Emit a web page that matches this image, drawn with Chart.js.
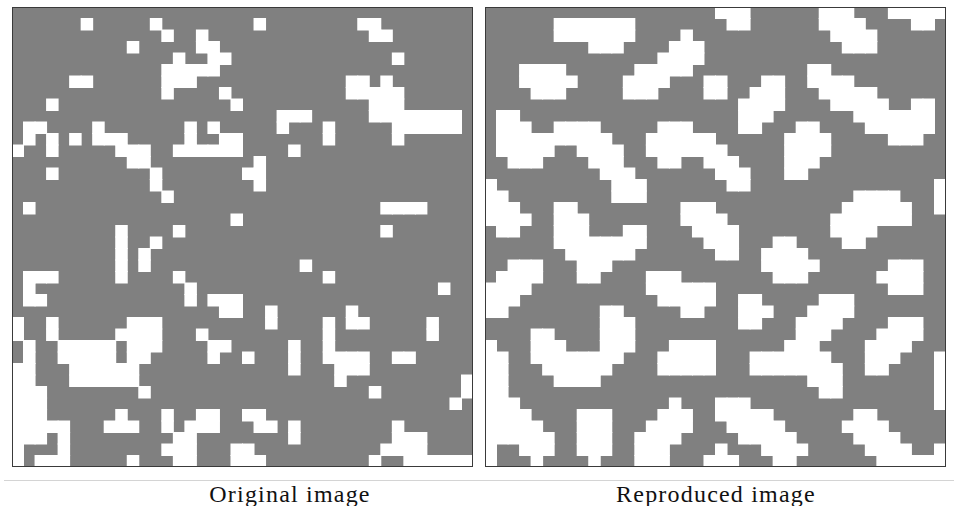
<!DOCTYPE html>
<html><head><meta charset="utf-8">
<script src="https://cdn.jsdelivr.net/npm/chart.js@4.4.1/dist/chart.umd.min.js"></script>
<style>
html,body{margin:0;padding:0;background:#fff;width:954px;height:506px;overflow:hidden;}
.panel{position:absolute;top:7px;width:461px;height:460px;}
#p1{left:12px}
#p2{left:485px}
.sep{position:absolute;left:4px;top:480px;width:950px;height:1px;background:#d4d4d4;}
.cap{position:absolute;top:481px;font-family:"Liberation Serif","DejaVu Serif",serif;font-size:24px;line-height:26px;letter-spacing:1.2px;color:#111;white-space:nowrap;transform:translateX(-50%);}
</style></head><body>
<div class="panel" id="p1"><canvas id="c1" width="461" height="460"></canvas></div>
<div class="panel" id="p2"><canvas id="c2" width="461" height="460"></canvas></div>
<div class="sep"></div>
<div class="cap" id="t1" style="left:290px"></div>
<div class="cap" id="t2" style="left:716px"></div>
<script>
const panelTitles = ["Original image", "Reproduced image"];
const columnLabels = Array.from({length: 40}, (_, i) => String(i));

// white cells per row (column indices), rows top to bottom
const originalWhiteCells = [
  [],
  [6,12,21,30,31],
  [13,16,31,32],
  [10,16,17],
  [14,17,18,33],
  [13,14,15,16,17],
  [5,6,13,14,15,29,30,32],
  [13,18,29,30,31,32,33],
  [3,19,31,32,33],
  [23,24,25,31,32,33,34,35,36,37,38],
  [1,2,7,15,17,23,27,33,34,35,36,37,38],
  [1,3,5,7,8,9,15,18,19,27,33],
  [0,3,9,10,11,14,15,16,17,18,19,24],
  [10,11,21],
  [3,12,20,21],
  [12,21],
  [13],
  [1,32,33,34,35],
  [19],
  [9,14,32],
  [9,12],
  [9,11],
  [9,11,25],
  [1,2,3,9,14,27],
  [1,15,37],
  [1,2,15,17,18,19],
  [18,19,22,29],
  [0,3,10,11,12,22,27,29,30,36],
  [0,3,9,10,11,12,16,27,36],
  [1,4,5,6,7,8,10,11,12,17,18,24,27],
  [1,4,5,6,7,8,10,11,17,20,24,27,28,29,30,33,34],
  [0,1,5,6,7,8,9,10,24,28,29,30],
  [0,1,5,6,7,8,9,10,28,39],
  [0,1,2,11,31,39],
  [0,1,2,38],
  [0,1,2,9,13,16,17,20,21],
  [0,1,2,3,4,8,9,10,13,15,16,17,21,22,24,33],
  [0,1,2,4,14,15,24,33,34,35],
  [0,4,13,14,15,19,20,32,33,34,35],
  [0,2,3,4,10,14,15,19,20,21,31,34,35,36,37,38,39]
];

const reproducedWhiteCells = [
  [20,21,22,29,30,31,35,36,37,38,39],
  [6,7,8,9,10,11,12,21,22,29,30,31,32,37,38],
  [6,7,8,9,10,11,12,17,30,31,32,33],
  [9,10,11,16,17,18,31,32,33],
  [15,16,17,18],
  [3,4,5,6,13,14,15,16,17,28,29],
  [3,4,5,6,7,12,13,14,15,19,20,24,25,28,29,30,31],
  [4,5,6,12,13,14,19,20,23,24,25,29,30,31,32,33],
  [22,23,24,25,30,31,32,33,34,37,38],
  [1,2,22,23,24,32,33,34,35,36,37,38],
  [1,2,3,6,7,8,9,15,16,17,22,23,27,28,33,34,35,36,37,38],
  [1,2,3,4,5,6,7,8,9,10,14,15,16,17,18,19,26,27,28,29,35,36,37],
  [1,2,3,4,5,8,9,10,11,14,15,16,17,18,19,20,26,27,28,29],
  [2,3,4,9,10,11,15,16,19,20,21,26,27,28],
  [10,11,12,20,21,22,26,27],
  [0,11,12,13,21,22,39],
  [0,1,11,12,13,32,33,34,35,39],
  [0,1,2,6,7,17,18,19,31,32,33,34,35,36,39],
  [0,1,2,3,6,7,8,17,18,19,20,30,31,32,33,34,35,36],
  [1,2,6,7,8,12,13,18,19,20,21,30,31,32,33],
  [6,7,8,9,10,11,12,13,19,20,21,25,26,31,32],
  [7,8,9,10,11,12,20,21,24,25,26,27],
  [2,3,4,8,9,10,24,25,26,27,28,35,36,37],
  [1,2,3,4,8,9,14,15,16,25,26,27,34,35,36,37],
  [0,1,2,3,14,15,16,17,18,19,35,36,37],
  [0,1,2,15,16,17,18,19,22,23,29,30,31],
  [0,1,10,11,17,18,22,23,24,28,29,30,31],
  [10,11,12,22,23,27,28,29,30,35,36,37],
  [4,5,10,11,12,27,28,29,34,35,36,37],
  [0,4,5,6,10,11,12,16,17,18,19,26,27,28,33,34,35,36],
  [0,1,4,5,6,7,8,9,10,11,15,16,17,18,19,23,24,25,26,27,28,29,33,34,35,39],
  [0,1,5,6,7,8,9,10,15,16,17,18,19,23,24,25,26,27,28,29,30,33,34,39],
  [0,1,6,7,8,9,28,29,30,39],
  [0,1,29,30,39],
  [0,1,2,16,20,21,22,39],
  [0,1,2,3,8,9,10,15,16,17,20,21,22,23,24,32,33],
  [0,1,2,3,4,8,9,10,14,15,16,17,21,22,23,24,25,31,32,33,34],
  [0,1,2,3,4,5,8,9,10,13,14,15,16,22,23,24,25,26,32,33,34,35],
  [0,3,4,5,8,9,10,13,14,15,20,24,25,26,27,33,34,35,36,39],
  [0,4,9,13,14,15,19,20,21,25,26,34,35,36,37,38,39]
];

const frame = {
  id: 'frame',
  beforeDraw(chart) {
    const {ctx, chartArea: a} = chart;
    ctx.save();
    ctx.fillStyle = '#808080';
    ctx.fillRect(a.left, a.top, a.right - a.left, a.bottom - a.top);
    ctx.restore();
  },
  afterDraw(chart) {
    const {ctx, chartArea: a} = chart;
    ctx.save();
    ctx.strokeStyle = '#3a3a3a';
    ctx.lineWidth = 1;
    ctx.strokeRect(a.left + 0.5, a.top + 0.5, a.right - a.left - 1, a.bottom - a.top - 1);
    ctx.restore();
  }
};

function makeChart(id, rows, title) {
  const datasets = rows.map((cols, r) => ({
    label: title + ' row ' + r,
    data: columnLabels.map((_, c) => cols.includes(c) ? [r, r + 1] : null),
    backgroundColor: '#ffffff',
    borderWidth: 0,
    inflateAmount: 0.5,
    grouped: false,
    barPercentage: 1,
    categoryPercentage: 1
  }));
  return new Chart(document.getElementById(id), {
    type: 'bar',
    data: {labels: columnLabels, datasets},
    options: {
      responsive: false,
      animation: false,
      devicePixelRatio: 1,
      layout: {padding: 0},
      plugins: {legend: {display: false}, tooltip: {enabled: false}, title: {display: false}},
      scales: {
        x: {display: false, offset: true, grid: {display: false}},
        y: {display: false, min: 0, max: 40, reverse: true, grid: {display: false}}
      }
    },
    plugins: [frame]
  });
}

makeChart('c1', originalWhiteCells, panelTitles[0]);
makeChart('c2', reproducedWhiteCells, panelTitles[1]);
document.getElementById('t1').textContent = panelTitles[0];
document.getElementById('t2').textContent = panelTitles[1];
</script>
</body></html>
